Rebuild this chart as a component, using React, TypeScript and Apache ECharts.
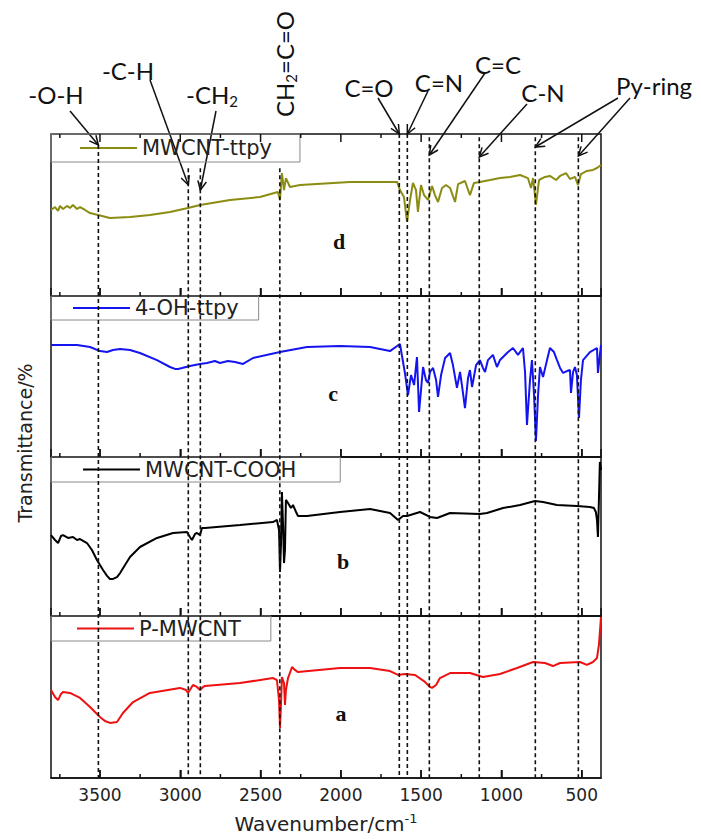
import React, { useEffect, useRef } from "react";
import * as echarts from "echarts";

// ---------------- Data ----------------
const wnRange = [380, 3805];
const majorTicks = [500, 1000, 1500, 2000, 2500, 3000, 3500];
const minorTicks = [750, 1250, 1750, 2250, 2750, 3250, 3750];

const seriesNames = ["MWCNT-ttpy", "4-OH-ttpy", "MWCNT-COOH", "P-MWCNT"];
const panelLetters = ["d", "c", "b", "a"];

// d: MWCNT-ttpy
const ttpyWn = [3805, 3780, 3761, 3749, 3730, 3705, 3687, 3668, 3643, 3624, 3593, 3562, 3512, 3438, 3313, 3189, 3064, 2952, 2877, 2690, 2504, 2392, 2379, 2367, 2354, 2342, 2317, 2254, 1943, 1756, 1650, 1632, 1607, 1588, 1569, 1551, 1532, 1520, 1501, 1482, 1457, 1432, 1414, 1395, 1370, 1345, 1320, 1289, 1270, 1227, 1196, 1171, 1134, 1071, 1009, 947, 884, 835, 816, 803, 785, 766, 729, 698, 660, 635, 598, 573, 542, 523, 505, 468, 430, 405, 380];
const ttpyT = [53.1, 54.9, 52.5, 55.6, 53.7, 55.6, 54.3, 56.2, 53.7, 54.9, 53.1, 51.2, 50.0, 48.1, 48.8, 50.0, 51.9, 54.3, 56.2, 59.3, 61.1, 64.2, 59.3, 75.9, 65.4, 72.8, 67.3, 68.5, 70.4, 70.4, 70.4, 65.4, 61.1, 45.7, 59.3, 69.8, 65.4, 51.9, 68.5, 62.3, 59.3, 67.9, 62.3, 58.0, 66.7, 68.5, 66.7, 58.0, 69.1, 71.0, 62.3, 69.8, 70.4, 71.6, 72.8, 73.5, 74.7, 72.8, 66.7, 72.8, 56.2, 71.6, 73.5, 74.1, 71.6, 74.1, 75.9, 72.2, 73.5, 68.5, 75.3, 77.2, 77.8, 79.0, 80.9];

// c: 4-OH-ttpy
const ohTtpyWn = [3805, 3643, 3562, 3500, 3456, 3419, 3375, 3313, 3251, 3145, 3064, 3033, 3014, 2989, 2940, 2877, 2834, 2784, 2753, 2703, 2659, 2609, 2547, 2379, 2211, 2005, 1818, 1694, 1632, 1601, 1582, 1563, 1544, 1526, 1513, 1488, 1470, 1457, 1445, 1426, 1407, 1395, 1376, 1351, 1320, 1302, 1277, 1258, 1246, 1227, 1208, 1196, 1183, 1158, 1134, 1115, 1102, 1084, 1053, 1028, 1009, 990, 959, 928, 897, 866, 853, 841, 822, 810, 797, 785, 772, 760, 741, 716, 698, 673, 654, 635, 616, 592, 573, 567, 554, 542, 530, 517, 505, 492, 449, 405, 399, 387, 380];
const ohTtpyT = [69.6, 69.6, 68.3, 65.8, 65.2, 66.5, 67.1, 66.5, 64.6, 60.2, 55.9, 54.7, 54.7, 55.3, 56.5, 57.8, 58.4, 59.6, 58.4, 59.6, 59.0, 57.8, 61.5, 65.2, 68.3, 68.9, 68.3, 65.8, 70.2, 52.2, 38.5, 50.9, 44.7, 62.1, 28.0, 55.9, 47.8, 46.0, 52.8, 55.3, 47.8, 37.3, 50.9, 61.5, 64.6, 57.1, 42.9, 52.8, 44.7, 30.4, 49.1, 54.0, 43.5, 57.1, 60.2, 55.3, 52.8, 60.2, 63.4, 55.9, 60.2, 62.1, 65.2, 67.7, 63.4, 67.7, 52.8, 19.9, 47.8, 60.2, 38.5, 9.9, 38.5, 55.9, 49.7, 60.2, 67.7, 65.2, 60.2, 55.3, 52.2, 53.4, 54.0, 39.8, 52.8, 55.9, 50.9, 24.2, 47.8, 60.2, 65.2, 67.7, 52.2, 63.4, 69.6];

// b: MWCNT-COOH
const coohWn = [3805, 3780, 3761, 3743, 3730, 3699, 3668, 3643, 3624, 3581, 3550, 3519, 3481, 3456, 3438, 3419, 3394, 3375, 3344, 3313, 3251, 3145, 3045, 2958, 2940, 2927, 2908, 2896, 2877, 2865, 2846, 2628, 2423, 2398, 2385, 2379, 2373, 2367, 2360, 2354, 2348, 2342, 2329, 2311, 2298, 2279, 2267, 2211, 2005, 1818, 1694, 1644, 1613, 1588, 1507, 1445, 1401, 1320, 1134, 1090, 990, 884, 791, 741, 654, 530, 449, 424, 412, 405, 399, 393, 387, 380];
const coohT = [50.9, 47.8, 45.9, 50.3, 50.9, 49.1, 49.7, 47.8, 48.4, 45.9, 41.5, 35.2, 28.9, 25.2, 23.3, 23.3, 24.5, 27.0, 32.1, 37.1, 43.4, 49.1, 52.2, 52.8, 49.7, 47.8, 51.6, 52.2, 50.9, 55.3, 55.3, 57.2, 59.1, 60.4, 54.1, 27.7, 44.7, 78.0, 57.2, 33.3, 41.5, 73.0, 71.1, 67.9, 69.8, 65.4, 62.9, 62.9, 65.4, 67.3, 64.8, 60.4, 62.9, 62.9, 65.4, 62.3, 61.6, 64.8, 64.2, 64.8, 67.9, 69.8, 72.3, 71.7, 69.8, 69.2, 68.6, 67.9, 65.4, 60.4, 49.7, 73.0, 96.9, 91.8];

// a: P-MWCNT
const pWn = [3805, 3780, 3761, 3743, 3730, 3687, 3624, 3562, 3500, 3469, 3438, 3394, 3357, 3294, 3189, 3002, 2964, 2952, 2940, 2921, 2896, 2877, 2858, 2846, 2628, 2423, 2398, 2385, 2379, 2373, 2367, 2354, 2348, 2342, 2329, 2304, 2286, 2267, 2005, 1818, 1694, 1644, 1601, 1538, 1476, 1445, 1432, 1407, 1383, 1320, 1196, 1115, 1009, 903, 803, 729, 679, 635, 511, 468, 430, 405, 393, 380];
const pT = [54.3, 50.0, 48.1, 51.9, 53.1, 52.5, 49.4, 43.8, 37.7, 35.2, 34.0, 34.6, 40.1, 46.9, 52.5, 55.6, 54.3, 52.5, 54.3, 57.4, 56.2, 54.3, 56.2, 56.8, 58.6, 61.7, 60.5, 48.1, 30.9, 45.1, 62.3, 58.6, 45.1, 54.3, 61.7, 68.5, 66.7, 65.4, 67.9, 67.9, 66.0, 63.6, 64.2, 63.6, 59.3, 56.2, 55.6, 57.4, 61.7, 64.8, 64.8, 62.3, 64.2, 67.9, 71.6, 71.0, 69.1, 71.0, 71.6, 69.8, 71.6, 74.1, 82.1, 99.4];

// dashed reference lines (wavenumber) and how far up they reach (fraction of plot height)
const dashWn = [3510, 2950, 2875, 2380, 1636, 1586, 1449, 1138, 789, 521];
const dashTopFrac = [0.983, 0.947, 0.947, 0.947, 1, 1, 0.995, 0.995, 0.995, 0.995];

// peak assignment labels
const peakLabels = ["-O-H", "-C-H", "-CH2", "CH2=C=O", "C=O", "C=N", "C=C", "C-N", "Py-ring"];

// ---------------- Layout / style ----------------
const GRID_LEFT = 51;
const GRID_W = 550;
const PANEL_TOP = [134, 296, 457, 616];
const PANEL_H = [162, 161, 159, 162];
const COLORS = ["#8c8c12", "#1414f0", "#000000", "#ee1111"];
const MAJOR_LEN = 8;
const MINOR_LEN = 4;
const LEGEND_PAD = [
  [3.5, 28, 3.5, 29],
  [1.5, 20, 1.5, 22],
  [2, 44, 2, 32],
  [2, 30, 2, 26],
];
const LETTER_POS = [
  [339, 241],
  [333, 393],
  [343, 561],
  [341, 713],
];
const LABEL_POS = [
  { x: 56, y: 95 },
  { x: 128, y: 71 },
  { x: 212, y: 95 },
  { x: 285, y: 64, rot: Math.PI / 2 },
  { x: 369, y: 88 },
  { x: 439, y: 83 },
  { x: 498, y: 65 },
  { x: 543, y: 93 },
  { x: 654, y: 86 },
];
const ARROWS = [
  { from: [70, 111], wn: 3510, tipY: 145 },
  { from: [150, 80], wn: 2950, tipY: 185 },
  { from: [216, 111], wn: 2875, tipY: 190 },
  { from: [378, 98], wn: 1636, tipY: 134 },
  { from: [428, 91], wn: 1586, tipY: 134 },
  { from: [485, 73], wn: 1449, tipY: 155 },
  { from: [527, 104], wn: 1138, tipY: 157 },
  { from: [618, 98], wn: 789, tipY: 147 },
  { from: [630, 98], wn: 521, tipY: 156 },
];

// same linear mapping as the grids' x axes (min..max inverted across GRID_W)
const xPix = (w: number) =>
  GRID_LEFT + ((wnRange[1] - w) / (wnRange[1] - wnRange[0])) * GRID_W;

const toRich = (s: string) =>
  s
    .split("CH2")
    .map((part) => (part ? `{m|${part}}` : ""))
    .join("{m|CH}{s|2}");

function buildOption(): any {
  const spectra = [
    { wn: ttpyWn, t: ttpyT },
    { wn: ohTtpyWn, t: ohTtpyT },
    { wn: coohWn, t: coohT },
    { wn: pWn, t: pT },
  ];

  const grids: any[] = PANEL_TOP.map((top, i) => ({
    left: GRID_LEFT,
    top,
    width: GRID_W,
    height: PANEL_H[i],
    show: true,
    borderColor: "#111",
    borderWidth: 1.5,
    backgroundColor: "transparent",
    containLabel: false,
    outerBoundsMode: "none",
  }));
  grids.push({
    left: GRID_LEFT,
    top: PANEL_TOP[0],
    width: GRID_W,
    height: PANEL_TOP[3] + PANEL_H[3] - PANEL_TOP[0],
    show: false,
    outerBoundsMode: "none",
  });

  const baseX = (gridIndex: number, labels: boolean) => ({
    type: "value",
    gridIndex,
    position: "bottom",
    min: wnRange[0],
    max: wnRange[1],
    inverse: true,
    axisLine: { show: true, onZero: false, lineStyle: { color: "#111", width: 1.5 } },
    axisTick: { show: true, inside: true, length: MAJOR_LEN, lineStyle: { color: "#111", width: 1.5 } },
    axisLabel: labels
      ? {
          show: true,
          showMinLabel: false,
          showMaxLabel: false,
          margin: 8,
          fontSize: 17,
          fontFamily: "DejaVu Sans",
          color: "#222",
          formatter: (v: number) => (majorTicks.indexOf(v) >= 0 ? String(v) : ""),
        }
      : { show: false },
    splitLine: { show: false },
  });

  const xAxes: any[] = [];
  for (let i = 0; i < 4; i++) xAxes.push(baseX(i, i === 3));
  xAxes.push({
    type: "value",
    gridIndex: 4,
    min: wnRange[0],
    max: wnRange[1],
    inverse: true,
    show: false,
  });

  const yAxes: any[] = PANEL_TOP.map((_, i) => ({
    type: "value",
    gridIndex: i,
    min: 0,
    max: 100,
    show: false,
  }));
  yAxes.push({ type: "value", gridIndex: 4, min: 0, max: 1, show: false });

  const series: any[] = spectra.map((s, i) => ({
    type: "line",
    name: seriesNames[i],
    xAxisIndex: i,
    yAxisIndex: i,
    data: s.wn.map((w, k) => [w, s.t[k]]),
    symbol: "none",
    smooth: false,
    lineStyle: { color: COLORS[i], width: 2 },
    itemStyle: { color: COLORS[i] },
    z: 3,
  }));

  dashWn.forEach((w, k) => {
    series.push({
      type: "line",
      xAxisIndex: 4,
      yAxisIndex: 4,
      data: [
        [w, dashTopFrac[k]],
        [w, 0],
      ],
      symbol: "none",
      silent: true,
      lineStyle: { color: "#111", width: 1.6, type: [4, 3] },
      z: 4,
    });
  });

  const legends = seriesNames.map((n, i) => ({
    data: [n],
    left: GRID_LEFT,
    top: PANEL_TOP[i],
    orient: "horizontal",
    icon: "rect",
    itemWidth: 57,
    itemHeight: 2,
    padding: LEGEND_PAD[i],
    borderColor: "#8a8a8a",
    borderWidth: 1,
    selectedMode: false,
    textStyle: { fontFamily: "DejaVu Sans", fontSize: 21, lineHeight: 20, color: "#222" },
  }));

  const annRich = {
    m: { fontSize: 24, fontFamily: "Lato", lineHeight: 26, verticalAlign: "top", fill: "#111" },
    s: { fontSize: 15, fontFamily: "Lato", lineHeight: 16, verticalAlign: "bottom", fill: "#111" },
  };

  const graphic: any[] = [];

  // inward tick marks: bottom edge of every panel, top edge of the top panel
  const addTicks = (edgeY: number, dir: number) => {
    majorTicks.concat(minorTicks).forEach((v) => {
      const len = majorTicks.indexOf(v) >= 0 ? MAJOR_LEN : MINOR_LEN;
      const x = xPix(v);
      graphic.push({
        type: "line",
        z: 50,
        silent: true,
        shape: { x1: x, y1: edgeY, x2: x, y2: edgeY + dir * len },
        style: { stroke: "#111", lineWidth: 1.5 },
      });
    });
  };
  PANEL_TOP.forEach((top, i) => addTicks(top + PANEL_H[i], -1));
  addTicks(PANEL_TOP[0], 1);

  peakLabels.forEach((lab, i) => {
    const p = LABEL_POS[i];
    graphic.push({
      type: "text",
      x: p.x,
      y: p.y,
      rotation: p.rot || 0,
      style: {
        text: toRich(lab),
        rich: annRich,
        align: "center",
        verticalAlign: "middle",
        textAlign: "center",
        textVerticalAlign: "middle",
        fill: "#111",
      },
    });
  });

  ARROWS.forEach((a) => {
    const x1 = a.from[0];
    const y1 = a.from[1];
    const x2 = xPix(a.wn);
    const y2 = a.tipY;
    const th = Math.atan2(y2 - y1, x2 - x1);
    const L = 10;
    const phi = 0.45;
    graphic.push({
      type: "line",
      shape: { x1, y1, x2, y2 },
      style: { stroke: "#111", lineWidth: 1.5 },
    });
    graphic.push({
      type: "polyline",
      shape: {
        points: [
          [x2 - L * Math.cos(th - phi), y2 - L * Math.sin(th - phi)],
          [x2, y2],
          [x2 - L * Math.cos(th + phi), y2 - L * Math.sin(th + phi)],
        ],
      },
      style: { stroke: "#111", lineWidth: 1.5, fill: "none" },
    });
  });

  panelLetters.forEach((l, i) => {
    graphic.push({
      type: "text",
      x: LETTER_POS[i][0],
      y: LETTER_POS[i][1],
      style: {
        text: l,
        font: 'bold 22px "Liberation Serif"',
        fill: "#111",
        align: "center",
        verticalAlign: "middle",
        textAlign: "center",
        textVerticalAlign: "middle",
      },
    });
  });

  graphic.push({
    type: "text",
    x: 25,
    y: 443,
    rotation: Math.PI / 2,
    style: {
      text: "Transmittance/%",
      font: '19px "DejaVu Sans"',
      fill: "#222",
      align: "center",
      verticalAlign: "middle",
      textAlign: "center",
      textVerticalAlign: "middle",
    },
  });

  graphic.push({
    type: "text",
    x: 326,
    y: 823,
    style: {
      text: "{m|Wavenumber/cm}{p|-1}",
      rich: {
        m: { fontSize: 20, fontFamily: "DejaVu Sans", lineHeight: 22, verticalAlign: "bottom", fill: "#222" },
        p: { fontSize: 13, fontFamily: "DejaVu Sans", lineHeight: 14, verticalAlign: "top", fill: "#222" },
      },
      align: "center",
      verticalAlign: "middle",
      textAlign: "center",
      textVerticalAlign: "middle",
      fill: "#222",
    },
  });

  return {
    animation: false,
    backgroundColor: "#ffffff",
    grid: grids,
    xAxis: xAxes,
    yAxis: yAxes,
    legend: legends,
    series,
    graphic,
  };
}

export default function App() {
  const ref = useRef<HTMLDivElement>(null);
  useEffect(() => {
    if (!ref.current) return;
    const chart = echarts.init(ref.current, null, { renderer: "svg" });
    chart.setOption(buildOption());
    return () => {
      chart.dispose();
    };
  }, []);
  return (
    <div
      ref={ref}
      style={{ position: "fixed", left: 0, top: 0, width: 701, height: 839, background: "#fff" }}
    />
  );
}
